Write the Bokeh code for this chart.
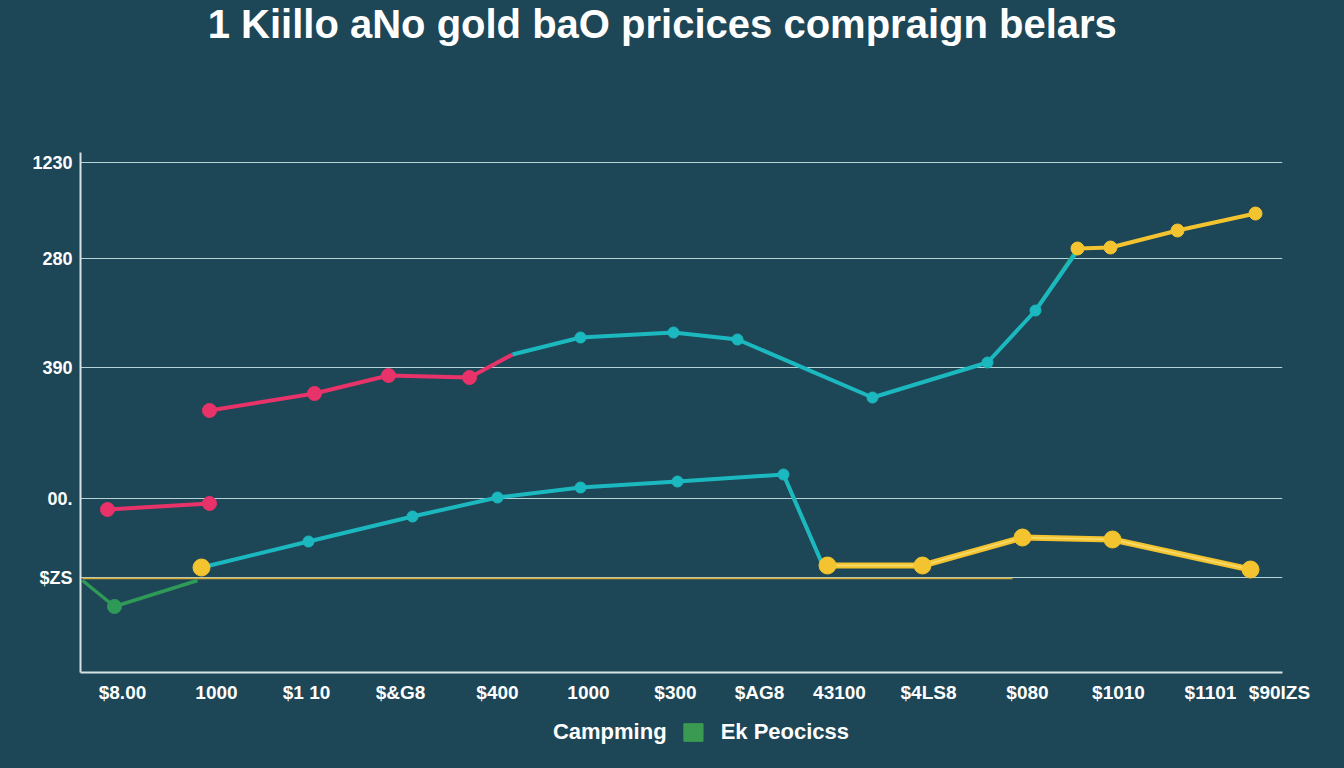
import math
from bokeh.plotting import figure
from bokeh.layouts import column
from bokeh.models import FixedTicker, Range1d, Legend, LegendItem, ColumnDataSource, Label
from bokeh.embed import file_html
from bokeh.resources import INLINE

# ---------------- data ----------------
title_text = "1 Kiillo aNo gold baO pricices compraign belars"

x_ticks = [4.2, 13.6, 22.6, 32.0, 41.7, 50.8, 59.5, 67.9, 75.9, 84.8, 94.7, 103.8, 113.0, 119.9]
x_labels = ["$8.00", "1000", "$1 10", "$&G8", "$400", "1000", "$300", "$AG8",
            "43100", "$4LS8", "$080", "$1010", "$1101", "$90IZS"]

y_ticks = [237.5, 435, 762.5, 1035, 1275]
y_labels = ["$ZS", "00.", "390", "280", "1230"]

# pink series (two segments)
pink_a_x = [2.7, 12.9]
pink_a_y = [407.5, 422.5]
pink_b_x = [12.9, 23.4, 30.8, 38.9, 43.2]
pink_b_y = [655, 697.5, 742.5, 737.5, 795]
pink_b_mx = [12.9, 23.4, 30.8, 38.9]
pink_b_my = [655, 697.5, 742.5, 737.5]

# teal series
teal_up_x = [43.2, 50.0, 59.3, 65.7, 79.2, 90.7, 95.5, 99.7]
teal_up_y = [795, 837.5, 850, 832.5, 687.5, 775, 905, 1055]
teal_up_mx = [50.0, 59.3, 65.7, 79.2, 90.7, 95.5]
teal_up_my = [837.5, 850, 832.5, 687.5, 775, 905]
teal_lo_x = [12.1, 22.8, 33.2, 41.7, 50.0, 59.7, 70.3, 74.2]
teal_lo_y = [262.5, 327.5, 390, 437.5, 462.5, 477.5, 495, 270]
teal_lo_mx = [22.8, 33.2, 41.7, 50.0, 59.7, 70.3]
teal_lo_my = [327.5, 390, 437.5, 462.5, 477.5, 495]

# green series
green_a_x = [0.2, 3.4, 11.7]
green_a_y = [230, 165, 230]
green_b_x = [70.3, 74.2]
green_b_y = [495, 270]
green_c_x = [95.5, 99.7]
green_c_y = [905, 1060]

# yellow series
yellow_lo_x = [74.7, 84.2, 94.2, 103.2, 117.0]
yellow_lo_y = [267.5, 267.5, 337.5, 332.5, 257.5]
yellow_up_x = [99.7, 103.0, 109.7, 117.5]
yellow_up_y = [1060, 1062.5, 1105, 1147.5]
yellow_pt_x = [12.1]
yellow_pt_y = [262.5]

# thin orange baseline
base_x = [0.2, 93.2]
base_y = [235, 235]

legend_labels = ["Campming", "Ek Peocicss"]

# ---------------- style ----------------
BG = "#1d4656"
PINK = "#e8336a"
TEAL = "#1cb8bf"
GREEN = "#2f9a57"
YELLOW = "#f3c42f"
FONT = "Liberation Sans"


def strip(height):
    f = figure(width=1328, height=height, output_backend="svg", toolbar_location=None,
               x_range=Range1d(0, 1), y_range=Range1d(0, 1),
               x_axis_type=None, y_axis_type=None,
               background_fill_color=BG, border_fill_color=BG,
               outline_line_color=BG, outline_line_width=2,
               min_border=0)
    f.grid.visible = False
    return f


# title strip
p0 = strip(64)
p0.add_layout(Label(x=0.484, y=0.64, text=title_text, text_align="center",
                    text_baseline="middle", text_color="white", text_font=FONT,
                    text_font_size="40px", text_font_style="bold"))

# main chart
p = figure(width=1328, height=648, output_backend="svg", toolbar_location=None,
           x_range=Range1d(0, 120.2), y_range=Range1d(0, 1300),
           background_fill_color=BG, border_fill_color=BG, outline_line_color=None,
           min_border_left=80, min_border_right=46, min_border_top=88, min_border_bottom=40)

# axes
p.xaxis.ticker = FixedTicker(ticks=x_ticks)
p.xaxis.major_label_overrides = {t: l for t, l in zip(x_ticks, x_labels)}
p.yaxis.ticker = FixedTicker(ticks=y_ticks)
p.yaxis.major_label_overrides = {t: l for t, l in zip(y_ticks, y_labels)}
for ax in (p.xaxis[0], p.yaxis[0]):
    ax.axis_line_color = "#d6e2e4"
    ax.axis_line_width = 2
    ax.major_tick_line_color = None
    ax.minor_tick_line_color = None
    ax.major_tick_out = 0
    ax.major_tick_in = 0
    ax.minor_tick_out = 0
    ax.major_label_text_color = "white"
    ax.major_label_text_font = FONT
    ax.major_label_text_font_style = "bold"
p.xaxis.major_label_text_font_size = "19px"
p.xaxis.major_label_standoff = 9
p.yaxis.major_label_text_font_size = "18px"
p.yaxis.major_label_standoff = 8

p.xgrid.visible = False
p.ygrid.ticker = FixedTicker(ticks=y_ticks)
p.ygrid.grid_line_color = "#b4d3d6"
p.ygrid.grid_line_width = 1.2

# thin baseline
p.line(base_x, base_y, line_color="#d9a832", line_width=1.5)

# green
for gx, gy in ((green_a_x, green_a_y), (green_b_x, green_b_y), (green_c_x, green_c_y)):
    p.line(gx, gy, line_color=GREEN, line_width=3.5)
p.scatter([green_a_x[1]], [green_a_y[1]], size=14, color=GREEN)

# pink
p.line(pink_a_x, pink_a_y, line_color=PINK, line_width=4)
p.scatter(pink_a_x, pink_a_y, size=14, color=PINK)
p.line(pink_b_x, pink_b_y, line_color=PINK, line_width=4)
p.scatter(pink_b_mx, pink_b_my, size=14, color=PINK)

# teal
p.line(teal_up_x, teal_up_y, line_color=TEAL, line_width=4)
p.scatter(teal_up_mx, teal_up_my, size=11, color=TEAL)
p.line(teal_lo_x, teal_lo_y, line_color=TEAL, line_width=4)
p.scatter(teal_lo_mx, teal_lo_my, size=11, color=TEAL)

# yellow
p.line(yellow_lo_x, yellow_lo_y, line_color=YELLOW, line_width=6)
p.line(yellow_lo_x, yellow_lo_y, line_color="#f7dc72", line_width=1.5)
p.scatter(yellow_lo_x, yellow_lo_y, size=17, color=YELLOW)
p.line(yellow_up_x, yellow_up_y, line_color=YELLOW, line_width=4)
p.scatter(yellow_up_x, yellow_up_y, size=13, color=YELLOW)
p.scatter(yellow_pt_x, yellow_pt_y, size=17, color=YELLOW)

# legend strip below the chart
p2 = strip(40)
nan = math.nan
dummy = ColumnDataSource(data=dict(l=[nan], r=[nan], t=[nan], b=[nan]))
r_blank = p2.quad(left="l", right="r", top="t", bottom="b", source=dummy,
                  fill_alpha=0, line_alpha=0)
r_green = p2.quad(left="l", right="r", top="t", bottom="b", source=dummy,
                  fill_color="#3a9a52", line_color="#3a9a52")
legend = Legend(items=[LegendItem(label=legend_labels[0], renderers=[r_blank]),
                       LegendItem(label=legend_labels[1], renderers=[r_green])],
                orientation="horizontal", location="center",
                background_fill_alpha=0, border_line_color=None,
                label_text_color="white", label_text_font=FONT,
                label_text_font_style="bold", label_text_font_size="22px",
                glyph_width=24, glyph_height=22, spacing=14, label_standoff=16,
                padding=2, margin=0)
p2.add_layout(legend, "center")

layout = column(p0, p, p2, spacing=0)

page_template = """
{% block postamble %}
<style>html, body { background-color: #1d4656; }</style>
{% endblock %}
"""

open("out.html", "w").write(file_html(layout, INLINE, template=page_template))
